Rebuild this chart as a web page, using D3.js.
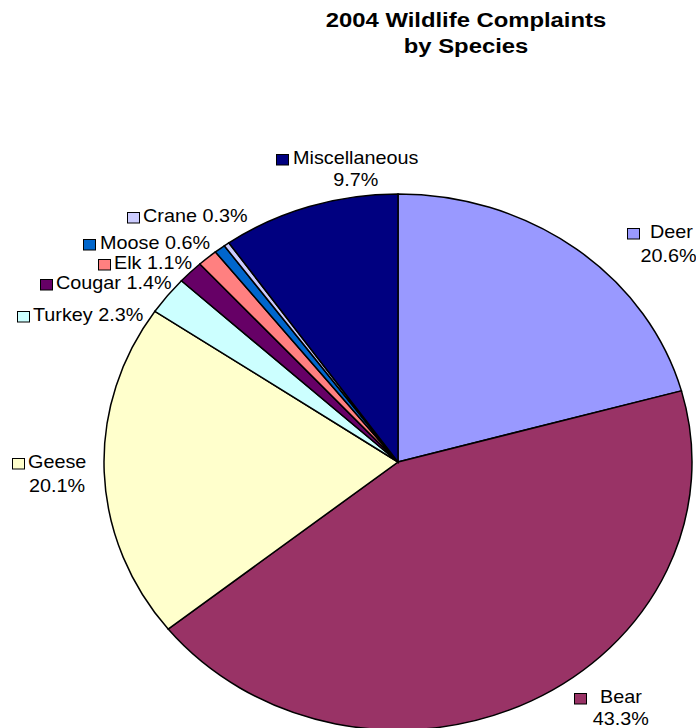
<!DOCTYPE html>
<html>
<head>
<meta charset="utf-8">
<style>
    body { margin: 0; background: #fff; }
    text { font-family: "Liberation Sans", Arial, sans-serif; fill: #000; }
</style>
</head>
<body>
<svg id="chart" width="696" height="728"></svg>
<script src="https://cdn.jsdelivr.net/npm/d3@7"></script>
<script>
    // values (percent of complaints)
    const species = ["Deer", "Bear", "Geese", "Turkey", "Cougar", "Elk", "Moose", "Crane", "Miscellaneous"];
    const shares = [20.6, 43.3, 20.1, 2.3, 1.4, 1.1, 0.6, 0.3, 9.7];
    const colors = ["#9999FF", "#993366", "#FFFFCC", "#CCFFFF", "#660066", "#FF8080", "#0066CC", "#CCCCFF", "#000080"];
    const titleLines = ["2004 Wildlife Complaints", "by Species"];

    // where each label sits (key left, text left, first baseline, second baseline if any)
    const labelPos = {
        Deer:          { kx: 627, tx: 650, y: 238, y2: 262, dx: -3 },
        Bear:          { kx: 574, tx: 600, y: 703, y2: 725 },
        Geese:         { kx: 12,  tx: 28,  y: 468, y2: 492 },
        Turkey:        { kx: 17,  tx: 33,  y: 321 },
        Cougar:        { kx: 40,  tx: 56,  y: 289 },
        Elk:           { kx: 98,  tx: 114, y: 269 },
        Moose:         { kx: 83,  tx: 100, y: 249 },
        Crane:         { kx: 127, tx: 143, y: 222 },
        Miscellaneous: { kx: 276, tx: 293, y: 164, y2: 186 }
    };

    const svg = d3.select("#chart");
    const cx = 398, cy = 462, rx = 294, ry = 268;
    const sx = 1.1; // the whole picture is a bit stretched sideways

    const data = species.map((s, i) => ({ name: s, value: shares[i], color: colors[i] }));

    const pie = d3.pie().sort(null).value(d => d.value);
    const arc = d3.arc().innerRadius(0).outerRadius(rx);

    svg.append("g")
        .attr("transform", `translate(${cx},${cy}) scale(1,${ry / rx})`)
        .selectAll("path")
        .data(pie(data))
        .join("path")
        .attr("d", arc)
        .attr("fill", d => d.data.color)
        .attr("stroke", "#000")
        .attr("stroke-width", 1.5)
        .attr("vector-effect", "non-scaling-stroke");

    // title
    svg.selectAll("text.title")
        .data(titleLines)
        .join("text")
        .attr("class", "title")
        .attr("transform", (d, i) => `translate(466,${27 + i * 26}) scale(1.135,1)`)
        .attr("text-anchor", "middle")
        .style("font-size", "21px")
        .style("font-weight", "bold")
        .text(d => d);

    // labels with colour keys
    const fs = 18;
    data.forEach(d => {
        const p = labelPos[d.name];
        svg.append("rect")
            .attr("x", p.kx + 0.5)
            .attr("y", p.y - 10 + 0.5)
            .attr("width", 12)
            .attr("height", 10.5)
            .attr("fill", d.color)
            .attr("stroke", "#000")
            .attr("stroke-width", 1);

        const pct = d.value.toFixed(1) + "%";
        const name = svg.append("text")
            .attr("transform", `translate(${p.tx},${p.y}) scale(${sx},1)`)
            .style("font-size", fs + "px")
            .text(p.y2 ? d.name : d.name + " " + pct);

        if (p.y2) {
            const w = name.node().getComputedTextLength() * sx;
            svg.append("text")
                .attr("transform", `translate(${p.tx + w / 2 + (p.dx || 0)},${p.y2}) scale(${sx},1)`)
                .attr("text-anchor", "middle")
                .style("font-size", fs + "px")
                .text(pct);
        }
    });
</script>
</body>
</html>
